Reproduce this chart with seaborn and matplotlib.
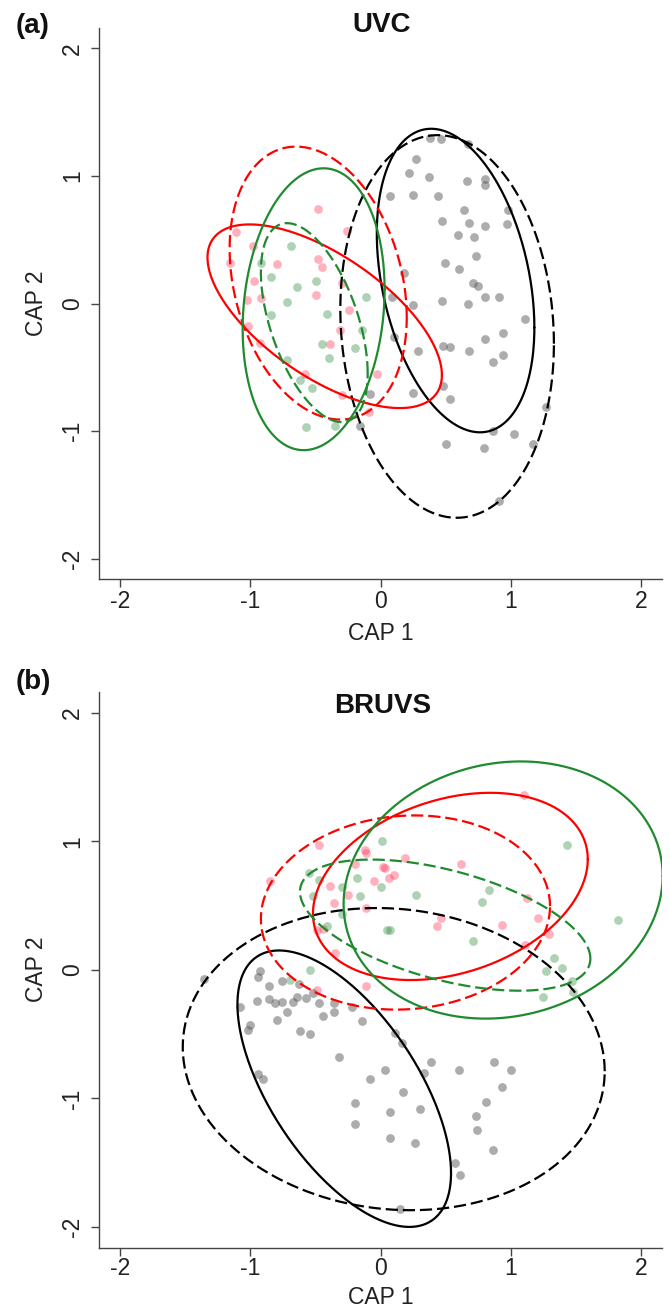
import numpy as np
import pandas as pd
import matplotlib
matplotlib.use("Agg")
import matplotlib.pyplot as plt
import seaborn as sns

# ---------------- data ----------------
# Panel (a) UVC : scatter points (CAP1, CAP2)
UVC_GREY = [(0.38, 1.30), (0.46, 1.29), (0.67, 1.25), (0.27, 1.13), (0.22, 1.02), (0.37, 0.99),
            (0.66, 0.96), (0.80, 0.98), (0.80, 0.93), (0.07, 0.84), (0.25, 0.85), (0.44, 0.84),
            (0.64, 0.73), (0.47, 0.65), (0.68, 0.63), (0.80, 0.61), (0.97, 0.62), (0.98, 0.73),
            (0.59, 0.54), (0.72, 0.52), (0.73, 0.37), (0.49, 0.32), (0.60, 0.27), (0.18, 0.24),
            (0.71, 0.16), (0.75, 0.14), (0.80, 0.05), (0.91, 0.05), (0.47, 0.02), (0.67, 0.00),
            (0.09, 0.05), (0.25, -0.01), (1.11, -0.12), (0.10, -0.26), (0.29, -0.37), (0.48, -0.33),
            (0.53, -0.34), (0.68, -0.37), (0.80, -0.28), (0.94, -0.23), (0.86, -0.46), (0.94, -0.40),
            (0.48, -0.65), (0.25, -0.70), (0.53, -0.75), (1.27, -0.81), (0.86, -1.00), (1.02, -1.02),
            (0.50, -1.10), (0.79, -1.13), (1.17, -1.10), (0.91, -1.55), (-0.08, -0.71), (-0.16, -0.96)]
UVC_RED = [(-0.48, 0.74), (-1.11, 0.56), (-0.98, 0.45), (-1.16, 0.32), (-0.80, 0.31),
           (-0.48, 0.35), (-0.45, 0.29), (-0.97, 0.18), (-0.50, 0.07), (-1.03, 0.03), (-0.92, 0.04),
           (-0.30, 0.16), (-0.24, -0.05), (-0.26, 0.57), (-1.02, -0.18), (-0.31, -0.21), (-0.93, -0.31),
           (-0.39, -0.32), (-0.03, -0.55), (-0.58, -0.55), (-0.30, -0.72), (-0.09, -0.85)]
UVC_GREEN = [(-0.69, 0.45), (-0.92, 0.32), (-0.84, 0.21), (-0.64, 0.13), (-0.50, 0.18), (-0.72, 0.01),
             (-0.11, 0.05), (-0.41, -0.08), (-0.84, -0.09), (-0.14, -0.21), (-0.45, -0.32), (-0.40, -0.43),
             (-0.20, -0.35), (-0.72, -0.44), (-0.62, -0.60), (-0.53, -0.66), (-0.57, -0.97), (-0.35, -0.96)]

# Panel (b) BRUVS : scatter points
BRUVS_GREY = [(-0.93, -0.01), (-0.94, -0.06), (-0.86, -0.13), (-0.76, -0.09), (-0.63, -0.11), (-0.86, -0.23),
              (-0.95, -0.24), (-0.81, -0.26), (-0.76, -0.25), (-0.67, -0.25), (-0.64, -0.21), (-0.57, -0.22),
              (-0.52, -0.18), (-0.47, -0.26), (-0.36, -0.26), (-1.08, -0.29), (-1.36, -0.07), (-1.00, -0.43),
              (-1.02, -0.47), (-0.80, -0.39), (-0.72, -0.33), (-0.44, -0.36), (-0.36, -0.33), (-0.62, -0.48),
              (-0.54, -0.50), (-0.14, -0.40), (-0.22, -0.29), (-0.32, -0.68), (-0.94, -0.81), (-0.90, -0.85),
              (-0.08, -0.85), (0.03, -0.78), (-0.20, -1.04), (-0.20, -1.20), (0.07, -1.11), (0.07, -1.31),
              (0.11, -0.49), (0.16, -0.57), (0.39, -0.72), (0.33, -0.80), (0.60, -0.78), (0.87, -0.72),
              (1.00, -0.78), (0.93, -0.91), (0.17, -0.95), (0.81, -1.03), (0.30, -1.08), (0.73, -1.14),
              (0.74, -1.25), (0.26, -1.35), (0.86, -1.40), (0.57, -1.50), (0.61, -1.60), (0.15, -1.86)]
BRUVS_RED = [(-0.47, 0.97), (-0.12, 0.93), (0.03, 0.79), (-0.05, 0.69), (-0.39, 0.65), (-0.25, 0.58),
             (-0.36, 0.52), (-0.11, 0.48), (-0.49, 0.31), (-0.44, 0.32), (-0.35, 0.13), (-0.11, -0.13),
             (-0.49, -0.16), (-0.85, 0.69), (-0.11, 0.91), (0.02, 0.80), (0.06, 0.71), (0.10, 0.74),
             (0.19, 0.87), (0.62, 0.82), (1.12, 0.56), (1.21, 0.40), (0.46, 0.40), (0.43, 0.34),
             (0.93, 0.35), (1.29, 0.28), (1.11, 0.19), (1.10, 1.36), (-0.20, 0.82)]
BRUVS_GREEN = [(0.01, 1.00), (0.00, 0.64), (-0.47, 0.70), (-0.18, 0.71), (-0.30, 0.64), (-0.52, 0.57),
               (-0.16, 0.57), (-0.30, 0.43), (-0.41, 0.34), (0.05, 0.31), (-0.70, -0.08), (-0.54, 0.00),
               (1.43, 0.97), (0.83, 0.62), (0.78, 0.53), (0.27, 0.58), (0.07, 0.31), (0.71, 0.22),
               (1.33, 0.09), (1.39, 0.01), (1.27, -0.01), (1.47, -0.09), (1.48, -0.17), (1.25, -0.21),
               (1.82, 0.39), (-0.55, 0.75)]

# Ellipses: (centre x, centre y, sd x, sd y, correlation)
UVC_ELLIPSES = {
    ("grey", "solid"): (0.575, 0.18, 0.605, 1.19, -0.31),
    ("grey", "dashed"): (0.51, -0.18, 0.82, 1.50, -0.09),
    ("red", "solid"): (-0.43, -0.10, 0.90, 0.72, -0.64),
    ("red", "dashed"): (-0.48, 0.16, 0.68, 1.07, -0.25),
    ("green", "solid"): (-0.515, -0.045, 0.545, 1.105, 0.14),
    ("green", "dashed"): (-0.51, -0.15, 0.41, 0.78, -0.51),
}
BRUVS_ELLIPSES = {
    ("grey", "solid"): (-0.28, -0.925, 0.82, 1.075, -0.61),
    ("grey", "dashed"): (0.10, -0.695, 1.62, 1.175, -0.08),
    ("red", "solid"): (0.535, 0.648, 1.055, 0.728, 0.29),
    ("red", "dashed"): (0.19, 0.445, 1.11, 0.755, 0.065),
    ("green", "solid"): (0.94, 0.62, 1.225, 1.00, 0.11),
    ("green", "dashed"): (0.495, 0.347, 1.115, 0.51, -0.51),
}
TICKS = [-2, -1, 0, 1, 2]

# ---------------- style ----------------
sns.set_theme(style="white")
plt.rcParams["font.family"] = ["Liberation Sans", "DejaVu Sans"]
plt.rcParams["axes.unicode_minus"] = False

POINT_COL = {"grey": ("#5a5a5a", 0.5), "red": ("#ff3355", 0.38), "green": ("#2e8b3e", 0.38)}
LINE_COL = {"grey": "black", "red": "#ff0000", "green": "#1f8a30"}
LINE_STYLE = {"solid": "-", "dashed": (0, (5.5, 2.2))}

fig = plt.figure(figsize=(6.7, 13.1), dpi=100)
W, H = 670.0, 1310.0
ax_a = fig.add_axes([99.4 / W, 1 - 579 / H, 562.6 / W, 551 / H])
ax_b = fig.add_axes([99.4 / W, 1 - 1247.5 / H, 562.6 / W, 555.5 / H])


def draw_panel(ax, points, ellipses, xpad, xlab_y):
    rows = []
    for grp, pts in points.items():
        for x, y in pts:
            rows.append({"CAP1": x, "CAP2": y, "group": grp})
    df = pd.DataFrame(rows)
    for grp in ["grey", "red", "green"]:
        sub = df[df["group"] == grp]
        col, a = POINT_COL[grp]
        sns.scatterplot(data=sub, x="CAP1", y="CAP2", ax=ax, color=col, alpha=a,
                        s=40, linewidth=0, legend=False, zorder=2)
    t = np.linspace(0, 2 * np.pi, 300)
    for (grp, style), (cx, cy, sx, sy, rho) in ellipses.items():
        ex = cx + sx * np.cos(t)
        ey = cy + sy * (rho * np.cos(t) + np.sqrt(1 - rho ** 2) * np.sin(t))
        ax.plot(ex, ey, color=LINE_COL[grp], lw=1.6, ls=LINE_STYLE[style], zorder=3)
    ax.set_xlim(-2.16, 2.16)
    ax.set_ylim(-2.16, 2.16)
    ax.set_xticks(TICKS)
    ax.set_yticks(TICKS)
    ax.set_xticklabels([str(v) for v in TICKS])
    ax.set_yticklabels([str(v) for v in TICKS], rotation=90, va="center")
    for s in ["top", "right"]:
        ax.spines[s].set_visible(False)
    for s in ["left", "bottom"]:
        ax.spines[s].set_color("#444444")
        ax.spines[s].set_linewidth(1.0)
    ax.tick_params(axis="both", direction="out", length=6, width=1.0, color="#444444",
                   labelsize=16.5, labelcolor="#222222", left=True, bottom=True)
    ax.tick_params(axis="x", pad=xpad)
    ax.tick_params(axis="y", pad=5)
    ax.set_xlabel("CAP 1", fontsize=16.5, color="#222222")
    ax.set_ylabel("CAP 2", fontsize=16.5, color="#222222")
    ax.xaxis.set_label_coords(0.5, xlab_y)
    ax.yaxis.set_label_coords(-0.092, 0.5)


draw_panel(ax_a, {"grey": UVC_GREY, "red": UVC_RED, "green": UVC_GREEN}, UVC_ELLIPSES, 2, -0.078)
draw_panel(ax_b, {"grey": BRUVS_GREY, "red": BRUVS_RED, "green": BRUVS_GREEN}, BRUVS_ELLIPSES, 0.8, -0.069)

fig.text(16 / W, 1 - 26 / H, "(a)", fontsize=20, fontweight="bold", ha="left", va="center", color="#111111")
fig.text(382 / W, 1 - 32.4 / H, "UVC", fontsize=20, fontweight="bold", ha="center", va="baseline", color="#111111")
fig.text(16 / W, 1 - 681.7 / H, "(b)", fontsize=20, fontweight="bold", ha="left", va="center", color="#111111")
fig.text(382.5 / W, 1 - 713.3 / H, "BRUVS", fontsize=20, fontweight="bold", ha="center", va="baseline", color="#111111")

fig.savefig("out.png", dpi=100, facecolor="white")
